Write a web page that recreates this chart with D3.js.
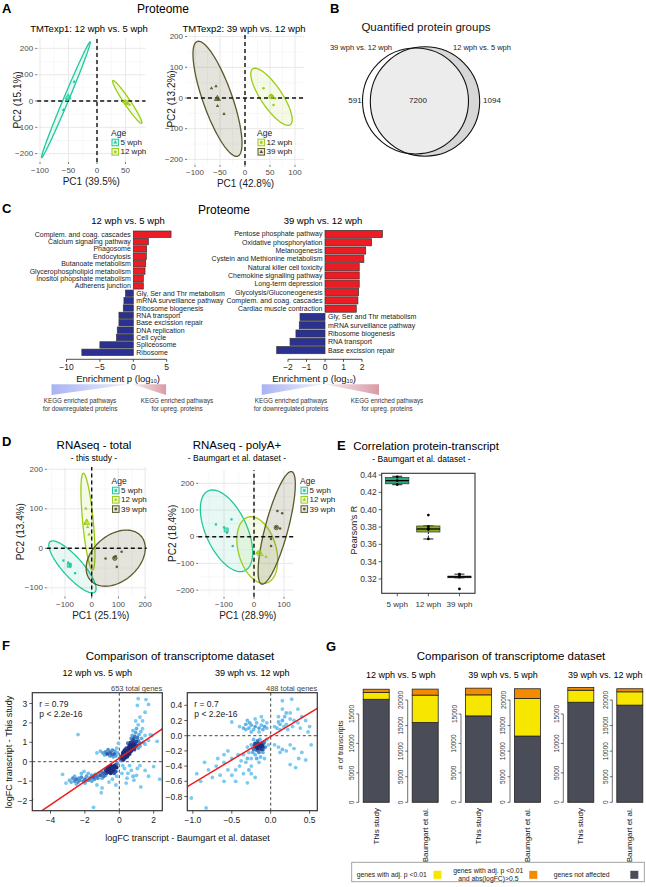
<!DOCTYPE html>
<html><head><meta charset="utf-8">
<script src="https://cdn.jsdelivr.net/npm/d3@7"></script>
<style>
body{margin:0;background:#fff}
svg{display:block}
text{font-family:"Liberation Sans",Arial,Helvetica,sans-serif}
</style></head>
<body><svg id="c" width="646" height="887"></svg>
<script>
// ================= DATA =================
// Panel A – proteome PCA
const pcaA1 = [
  {age:"5 wph", pc1:-40, pc2:73},{age:"5 wph", pc1:-53, pc2:4},{age:"5 wph", pc1:-59, pc2:-34},
  {age:"12 wph", pc1:46, pc2:-3},{age:"12 wph", pc1:53, pc2:-9},{age:"12 wph", pc1:49, pc2:1},{age:"12 wph", pc1:57, pc2:-14}
];
const ellA1 = [
  {age:"5 wph", cx:-54.5, cy:5, ux:42.5, uy:220, vx:5, vy:0},
  {age:"12 wph", cx:53, cy:-3.5, ux:25, uy:-81.5, vx:6, vy:2}
];
const pcaA2 = [
  {age:"12 wph", pc1:37, pc2:32},{age:"12 wph", pc1:52, pc2:10},{age:"12 wph", pc1:60, pc2:-1},{age:"12 wph", pc1:57, pc2:-23},{age:"12 wph", pc1:55, pc2:6},
  {age:"39 wph", pc1:-67, pc2:32},{age:"39 wph", pc1:-58, pc2:38},{age:"39 wph", pc1:-55, pc2:-26},{age:"39 wph", pc1:-42, pc2:-52},{age:"39 wph", pc1:-54, pc2:-4}
];
const ellA2 = [
  {age:"39 wph", cx:-55, cy:-2.5, ux:-38, uy:187.5, vx:31, vy:0},
  {age:"12 wph", cx:53, cy:4, ux:33, uy:-93, vx:25, vy:0}
];
// Panel B – Venn counts
const vennLabels = ["39 wph vs. 12 wph","12 wph vs. 5 wph"];
const vennCounts = [591, 7200, 1094];
// Panel C – KEGG enrichment
const keggUpA = ["Complem. and coag. cascades","Calcium signaling pathway","Phagosome","Endocytosis","Butanoate metabolism","Glycerophospholipid metabolism","Inositol phopshate metabolism","Adherens junction"];
const keggUpAVal = [5.65, 2.25, 2.0, 1.95, 1.85, 1.75, 1.5, 1.5];
const keggDownA = ["Gly, Ser and Thr metabolism","mRNA surveillance pathway","Ribosome biogenesis","RNA transport","Base excission repair","DNA replication","Cell cycle","Spliceosome","Ribosome"];
const keggDownAVal = [-1.15, -1.4, -1.5, -2.15, -2.15, -2.4, -2.5, -5.0, -7.7];
const keggUpB = ["Pentose phosphate pathway","Oxidative phosphorylation","Melanogenesis","Cystein and Methionine metabolism","Natural killer cell toxicity","Chemokine signalling pathway","Long-term depression","Glycolysis/Gluconeogenesis","Complem. and coag. cascades","Cardiac muscle contraction"];
const keggUpBVal = [3.1, 2.52, 2.2, 2.1, 1.85, 1.85, 1.85, 1.82, 1.78, 1.69];
const keggDownB = ["Gly, Ser and Thr metabolism","mRNA surveillance pathway","Ribosome biogenesis","RNA transport","Base excission repair"];
const keggDownBVal = [-1.35, -1.39, -1.57, -1.89, -2.61];
const keggTicksA = [-10, -5, 0, 5];
const keggTicksB = [-2, -1, 0, 1, 2];
// Panel D – RNAseq PCA
const pcaD1 = [
  {age:"5 wph", pc1:-106, pc2:-31},{age:"5 wph", pc1:-88, pc2:-36},{age:"5 wph", pc1:-81, pc2:-40},{age:"5 wph", pc1:-62, pc2:-63},{age:"5 wph", pc1:-82, pc2:-45},
  {age:"12 wph", pc1:-22, pc2:101},{age:"12 wph", pc1:-19, pc2:71},{age:"12 wph", pc1:-15, pc2:54},{age:"12 wph", pc1:-10, pc2:35},{age:"12 wph", pc1:-26, pc2:63},
  {age:"39 wph", pc1:52, pc2:-26},{age:"39 wph", pc1:85, pc2:-23},{age:"39 wph", pc1:94, pc2:-47},{age:"39 wph", pc1:112, pc2:-9},{age:"39 wph", pc1:90, pc2:-20}
];
const ellD1 = [
  {age:"5 wph", cx:-72, cy:-47, ux:-84, uy:63.5, vx:28, vy:17},
  {age:"12 wph", cx:-14, cy:67.5, ux:-17, uy:122.5, vx:20, vy:0},
  {age:"39 wph", cx:90, cy:-25, ux:105, uy:45, vx:-35, vy:55}
];
const pcaD2 = [
  {age:"5 wph", pc1:-127, pc2:46},{age:"5 wph", pc1:-100, pc2:35},{age:"5 wph", pc1:-75, pc2:65},{age:"5 wph", pc1:-71, pc2:-35},{age:"5 wph", pc1:-90, pc2:15},
  {age:"12 wph", pc1:14, pc2:-56},{age:"12 wph", pc1:9, pc2:-62},{age:"12 wph", pc1:40, pc2:-75},
  {age:"39 wph", pc1:78, pc2:96},{age:"39 wph", pc1:94, pc2:88},{age:"39 wph", pc1:74, pc2:35},{age:"39 wph", pc1:87, pc2:31},{age:"39 wph", pc1:57, pc2:-9},{age:"39 wph", pc1:57, pc2:-35}
];
const ellD2 = [
  {age:"5 wph", cx:-91.7, cy:22, ux:60, uy:-150, vx:-63.3, vy:-30},
  {age:"12 wph", cx:11, cy:-50, ux:25, uy:-124.7, vx:-63.3, vy:-7.5},
  {age:"39 wph", cx:75.7, cy:33, ux:50, uy:210.5, vx:36.7, vy:-11.2}
];
// Panel E – correlation boxplots
const corrAges = ["5 wph","12 wph","39 wph"];
const corrQ1 = [0.4298, 0.3742, 0.3214];
const corrMed = [0.4335, 0.3777, 0.3225];
const corrQ3 = [0.4372, 0.3812, 0.3234];
const corrLo = [0.4288, 0.3662, 0.3214];
const corrHi = [0.4385, 0.3812, 0.3256];
const corrPts = [[0.4378, 0.4336, 0.4290],[0.3938, 0.3805, 0.3782, 0.3770, 0.3662],[0.3255, 0.3232, 0.3222, 0.3085]];
const corrTicks = [0.32, 0.34, 0.36, 0.38, 0.40, 0.42, 0.44];
// Panel F – logFC scatter (x: Baumgart, y: this study)
const fLeft = [
 [0.2,0.2],[0.25,0.3],[0.3,0.25],[0.35,0.35],[0.4,0.3],[0.45,0.4],[0.5,0.35],[0.3,0.4],[0.4,0.45],[0.55,0.5],[0.35,0.2],[0.45,0.25],[0.5,0.45],[0.6,0.4],[0.38,0.38],[0.42,0.32],[0.28,0.33],[0.33,0.28],[0.48,0.3],[0.52,0.38],
 [0.36,0.42],[0.44,0.36],[0.32,0.36],[0.4,0.28],[0.46,0.44],[0.38,0.3],[0.42,0.4],[0.34,0.31],
 [0.6,0.6],[0.7,0.55],[0.65,0.7],[0.75,0.8],[0.8,0.65],[0.9,0.75],[0.85,0.9],[0.7,0.95],[0.95,1.0],[1.0,0.85],[1.1,1.1],[0.8,1.1],[0.6,0.85],[0.55,0.75],[1.2,0.95],[1.05,1.25],[0.9,1.3],[1.3,1.2],[1.15,1.4],[0.75,1.35],[0.95,1.5],[1.25,1.55],[1.0,1.7],[0.7,1.2],[0.5,0.95],[1.4,1.0],[1.5,1.35],[0.4,0.7],[0.3,0.6],[0.25,0.5],[0.65,1.0],[0.85,1.2],[1.1,0.7],[1.2,0.8],[0.55,0.6],[0.45,0.55],[0.2,0.45],[0.15,0.3],[1.35,1.7],[1.1,1.9],[0.8,1.6],[1.5,0.9],[1.7,1.1],[1.8,1.4],
 [0.62,0.5],[0.72,0.68],[0.58,0.66],[0.68,0.82],[0.78,0.72],[0.9,0.95],[1.0,1.05],[0.88,0.62],[0.5,0.6],[0.62,0.76],
 [1.1,3.25],[1.55,3.2],[1.7,2.95],[1.05,2.9],[1.5,2.55],[1.2,2.3],[1.35,2.1],[0.95,2.1],[1.9,1.35],[2.2,1.05],
 [-1.1,0.55],[-0.95,0.45],[-0.8,0.5],[-0.7,0.4],[-0.6,0.55],[-0.5,0.45],[-0.4,0.6],[-0.3,0.4],[-0.25,0.55],[-0.15,0.7],[-0.85,0.35],[-0.55,0.3],[-0.2,0.3],[-0.1,0.45],[-1.3,0.45],[-0.35,0.25],[-2.4,1.4],[-0.05,0.95],[-0.65,0.62],[-0.45,0.35],
 [-3.3,-0.65],[-3.1,-1.1],[-2.9,-0.95],[-2.8,-1.05],[-2.7,-0.85],[-2.6,-1.0],[-2.5,-0.9],[-2.4,-1.05],[-2.3,-0.95],[-2.2,-0.8],[-2.1,-1.0],[-2.0,-0.9],[-1.9,-0.75],[-1.8,-0.95],[-1.7,-0.85],[-1.6,-0.7],[-1.5,-0.8],[-1.4,-0.65],[-1.3,-0.75],[-1.2,-0.6],[-1.1,-0.7],[-1.0,-0.55],[-0.9,-0.6],[-0.8,-0.45],[-0.7,-0.5],[-2.5,-1.15],[-2.0,-1.1],[-1.6,-1.0],[-2.6,-0.75],[-2.2,-0.6],[-1.8,-0.6],[-2.05,-0.5],[-2.35,-0.85],[-1.95,-1.0],[-1.45,-0.9],[-1.25,-0.85],
 [-0.6,-0.4],[-0.5,-0.3],[-0.45,-0.35],[-0.4,-0.25],[-0.35,-0.3],[-0.3,-0.2],[-0.55,-0.45],[-0.5,-0.2],[-0.4,-0.4],[-0.3,-0.35],[-0.25,-0.25],[-0.2,-0.15],[-0.65,-0.3],[-0.7,-0.35],[-0.45,-0.5],[-0.35,-0.45],[-0.15,-0.3],[-0.1,-0.1],[-0.6,-0.55],[-0.75,-0.6],[-0.8,-0.7],[-0.9,-0.75],[-1.0,-0.85],[-0.2,-0.5],[-0.3,-0.6],[-0.5,-0.6],[-0.42,-0.28],[-0.48,-0.38],[-0.38,-0.33],[-0.52,-0.32],[-0.44,-0.42],[-0.36,-0.38],[-0.46,-0.3],[-0.4,-0.34],
 [-5.1,-1.95],[-1.5,-2.35],[-1.05,-1.6],[-1.0,-1.35],[-0.6,-1.05],[-0.2,-1.2],[-0.4,-0.9],[-0.15,-0.75],[-1.3,-1.2],
 [0.3,-0.35],[0.5,-0.6],[0.7,-0.45],[0.85,-0.95],[1.05,-0.35],[0.4,-1.1],[1.5,-0.45],[2.0,-0.25],[2.35,-0.9],[1.25,-1.3],[0.6,-0.2],[0.2,-0.2],[0.8,-0.75],[0.15,-0.6],[1.0,-0.7],[0.45,-0.85],[1.2,-0.2],[1.7,-0.75],
 [0.1,0.1],[0.15,0.15],[0.05,0.2],[0.25,0.1]
];
const fRight = [
 [-0.15,-0.12],[-0.12,-0.1],[-0.18,-0.15],[-0.1,-0.15],[-0.2,-0.1],[-0.14,-0.05],[-0.08,-0.08],[-0.22,-0.18],[-0.16,-0.2],[-0.12,-0.18],[-0.25,-0.12],[-0.05,-0.05],[-0.1,-0.22],[-0.2,-0.25],[-0.28,-0.22],[-0.18,-0.3],[-0.25,-0.3],[-0.13,-0.28],[-0.3,-0.15],[-0.07,-0.15],[-0.17,-0.07],[-0.22,-0.05],[-0.03,-0.12],[-0.08,-0.3],[-0.3,-0.3],[-0.35,-0.25],[-0.15,-0.35],[-0.25,-0.4],[-0.11,-0.13],[-0.19,-0.12],[-0.13,-0.16],[-0.17,-0.17],
 [-0.14,-0.14],[-0.16,-0.1],[-0.12,-0.12],[-0.18,-0.19],[-0.2,-0.15],[-0.1,-0.18],[-0.15,-0.22],[-0.23,-0.22],[-0.09,-0.1],[-0.21,-0.13],
 [-0.35,0.1],[-0.32,0.15],[-0.28,0.1],[-0.25,0.14],[-0.22,0.08],[-0.2,0.12],[-0.18,0.17],[-0.15,0.1],[-0.12,0.14],[-0.1,0.08],[-0.08,0.12],[-0.05,0.1],[-0.3,0.2],[-0.2,0.22],[-0.1,0.2],[-0.15,0.05],[-0.25,0.05],[-0.05,0.17],[-0.5,0.18],[-0.4,0.12],[-0.32,0.08],[-0.12,0.25],[-0.27,0.17],
 [0.08,0.1],[0.12,0.15],[0.15,0.2],[0.2,0.15],[0.18,0.25],[0.25,0.22],[0.3,0.2],[0.35,0.17],[0.1,0.25],[0.2,0.3],[0.15,0.35],[0.28,0.12],[0.05,0.12],[0.4,0.25],[0.45,0.2],[0.5,0.12],[0.15,0.46],[0.27,0.48],[0.35,0.35],[0.22,0.08],[0.38,0.1],[0.12,0.08],[0.17,0.12],[0.1,0.18],[0.25,0.3],[0.48,0.05],
 [0.05,-0.12],[0.1,-0.15],[0.15,-0.18],[0.2,-0.2],[0.25,-0.12],[0.3,-0.17],[0.4,-0.22],[0.45,-0.32],[0.25,-0.38],[0.32,-0.42],[0.52,-0.12],[0.12,-0.22],[0.36,-0.3],
 [-0.95,-0.5],[-0.9,-0.6],[-0.8,-0.45],[-0.75,-0.55],[-0.7,-0.4],[-0.65,-0.52],[-0.6,-0.35],[-0.55,-0.45],[-0.5,-0.3],[-0.45,-0.6],[-0.4,-0.4],[-0.35,-0.5],[-0.32,-0.35],[-0.3,-0.62],[-0.25,-0.5],[-0.2,-0.55],[-0.42,-0.25],[-0.6,-0.6],[-0.5,-0.52],[-0.38,-0.33],[-0.85,-0.35],[-0.68,-0.3],[-0.55,-0.2],[-0.45,-0.45],[-0.28,-0.45],
 [-1.02,-0.82],[-0.83,-0.95],[-0.6,-0.25]
];
const fLeftFit = {intercept:0.185, slope:0.602};
const fRightFit = {intercept:-0.01, slope:0.617};
const fStats = [{r:"r = 0.79", p:"p < 2.2e-16", n:"653 total genes"},{r:"r = 0.7", p:"p < 2.2e-16", n:"488 total genes"}];
const fTicksLX = [-4,-2,0,2], fTicksLY = [-2,-1,0,1,2,3];
const fTicksRX = [-1.0,-0.5,0.0,0.5], fTicksRY = [-0.8,-0.6,-0.4,-0.2,0.0,0.2,0.4];
// Panel G – stacked bars
const gComparisons = ["12 wph vs. 5 wph","39 wph vs. 5 wph","39 wph vs. 12 wph"];
const gDatasets = ["This study","Baumgart et al."];
const gNotAffected = [[17500,15600],[14680,12950],[17000,19000]];
const gAdjP = [[1150,5350],[3570,7360],[2040,2600]];
const gAdjPFC = [[560,1180],[1140,1890],[450,600]];
const gTicksThis = [0,5000,10000,15000];
const gTicksBaum = [0,5000,10000,15000,20000];
const gLegend = ["genes with adj. p <0.01","genes with adj. p <0.01|and abs(logFC)>0.5","genes not affected"];

// ================= DRAWING =================
const svg = d3.select("#c");
const COL = {"5 wph":"#1ec99c","12 wph":"#9bcc16","39 wph":"#5a5a2c"};
const SHAPE = {triangle:d3.symbolTriangle, circle:d3.symbolCircle, square:d3.symbolSquare};

function T(p, x, y, s, o = {}) {
  const t = p.append("text").attr("x", x).attr("y", y)
    .attr("font-size", o.size || 8).attr("fill", o.fill || "#000")
    .attr("text-anchor", o.anchor || "middle").attr("dominant-baseline", "central").text(s);
  if (o.weight) t.attr("font-weight", o.weight);
  if (o.rot) t.attr("transform", `rotate(${o.rot},${x},${y})`);
  return t;
}
function line(p, x1, y1, x2, y2, st, w, dash) {
  const l = p.append("line").attr("x1", x1).attr("y1", y1).attr("x2", x2).attr("y2", y2)
    .attr("stroke", st).attr("stroke-width", w);
  if (dash) l.attr("stroke-dasharray", dash);
  return l;
}
function ellPath(e, x, y) {
  const n = 120, pts = [];
  for (let i = 0; i <= n; i++) {
    const t = 2 * Math.PI * i / n;
    pts.push([x(e.cx + e.ux * Math.cos(t) + e.vx * Math.sin(t)), y(e.cy + e.uy * Math.cos(t) + e.vy * Math.sin(t))]);
  }
  return d3.line()(pts) + "Z";
}

// Panel letters
[["A",2,8],["B",330,8],["C",2,208],["D",2,441],["E",337,445],["F",2,645],["G",326,646]].forEach(d =>
  T(svg, d[1], d[2], d[0], {size:13, weight:"bold", anchor:"start"}));

function pca(cfg) {
  const g = svg.append("g");
  const x = d3.scaleLinear().domain(cfg.xRef).range(cfg.xPx);
  const y = d3.scaleLinear().domain(cfg.yRef).range(cfg.yPx);
  const X0 = x(cfg.xExt[0]), X1 = x(cfg.xExt[1]), Y0 = y(cfg.yExt[0]), Y1 = y(cfg.yExt[1]);
  cfg.xMinor.forEach(v => line(g, x(v), Y0, x(v), Y1, "#f3f3f3", 0.6));
  cfg.yMinor.forEach(v => line(g, X0, y(v), X1, y(v), "#f3f3f3", 0.6));
  cfg.xTicks.forEach(v => {
    line(g, x(v), Y0, x(v), Y1, "#e6e6e6", 0.9);
    line(g, x(v), Y0, x(v), Y0 + 2, "#555", 0.8);
    T(g, x(v), Y0 + 8, d3.format("")(v).replace("-", "\u2212"), {size:8, fill:"#4d4d4d"});
  });
  cfg.yTicks.forEach(v => {
    line(g, X0, y(v), X1, y(v), "#e6e6e6", 0.9);
    line(g, X0 - 2, y(v), X0, y(v), "#555", 0.8);
    T(g, X0 - 4, y(v), d3.format("")(v).replace("-", "\u2212"), {size:8, fill:"#4d4d4d", anchor:"end"});
  });
  cfg.ell.forEach(e => g.append("path").attr("d", ellPath(e, x, y))
    .attr("fill", COL[e.age]).attr("fill-opacity", e.age === "39 wph" ? 0.16 : 0.1)
    .attr("stroke", COL[e.age]).attr("stroke-width", 1.3));
  line(g, x(0), Y0, x(0), Y1, "#111", 1.4, "4,3");
  line(g, X0, y(0), X1, y(0), "#111", 1.4, "4,3");
  cfg.pts.forEach(p => g.append("path").attr("d", d3.symbol(SHAPE[cfg.shape[p.age]], 5)())
    .attr("transform", `translate(${x(p.pc1)},${y(p.pc2)})`).attr("fill", COL[p.age]));
  d3.groups(cfg.pts, d => d.age).forEach(([age, arr]) => {
    const mx = d3.mean(arr, d => d.pc1), my = d3.mean(arr, d => d.pc2);
    g.append("path").attr("d", d3.symbol(SHAPE[cfg.shape[age]], 16)())
      .attr("transform", `translate(${x(mx)},${y(my)})`).attr("fill", COL[age]).attr("fill-opacity", 0.6)
      .attr("stroke", COL[age]).attr("stroke-width", 0.8);
  });
  if (cfg.title) T(g, cfg.titleX, cfg.titleY, cfg.title, {size:cfg.titleSize || 9.5});
  if (cfg.sub) T(g, cfg.titleX, cfg.titleY + 13, cfg.sub, {size:8.5});
  T(g, (X0 + X1) / 2 + (cfg.xLabDx || 0), Y0 + 19, cfg.xLab, {size:10, fill:"#222"});
  T(g, cfg.yLabX, (Y0 + Y1) / 2, cfg.yLab, {size:10, fill:"#222", rot:-90});
  const L = cfg.leg;
  T(g, L.x, L.y, "Age", {size:8.5, anchor:"start", fill:"#222"});
  cfg.groups.forEach((a, i) => {
    const cy = L.y + 9.5 + i * 9.3;
    g.append("rect").attr("x", L.x + 1).attr("y", cy - 3.3).attr("width", 6.6).attr("height", 6.6)
      .attr("fill", COL[a]).attr("fill-opacity", 0.15).attr("stroke", COL[a]).attr("stroke-width", 1);
    g.append("path").attr("d", d3.symbol(SHAPE[cfg.shape[a]], 6)()).attr("transform", `translate(${L.x + 4.3},${cy})`).attr("fill", COL[a]);
    T(g, L.x + 9.5, cy, a, {size:8, anchor:"start", fill:"#222"});
  });
}

// ---- Panel A
T(svg, 163, 9, "Proteome", {size:12});
pca({xRef:[0,50], xPx:[97,125.5], yRef:[0,100], yPx:[101,74.7], xExt:[-105,85], yExt:[-232,240],
  xTicks:[-100,-50,0,50], yTicks:[-200,-100,0,100,200], xMinor:[-75,-25,25,75], yMinor:[-150,-50,50,150],
  ell:ellA1, pts:pcaA1, groups:["5 wph","12 wph"], shape:{"5 wph":"triangle","12 wph":"circle"},
  title:"TMTexp1: 12 wph vs. 5 wph", titleX:89, titleY:28, xLab:"PC1 (39.5%)", xLabDx:0, yLab:"PC2 (15.1%)", yLabX:18,
  leg:{x:111, y:133}});
pca({xRef:[0,100], xPx:[245,295], yRef:[0,100], yPx:[98,67.3], xExt:[-116,118], yExt:[-218,212],
  xTicks:[-100,-50,0,50,100], yTicks:[-200,-100,0,100,200], xMinor:[-75,-25,25,75], yMinor:[-150,-50,50,150],
  ell:ellA2, pts:pcaA2, groups:["12 wph","39 wph"], shape:{"12 wph":"circle","39 wph":"triangle"},
  title:"TMTexp2: 39 wph vs. 12 wph", titleX:244, titleY:28, xLab:"PC1 (42.8%)", xLabDx:0, yLab:"PC2 (13.2%)", yLabX:172,
  leg:{x:257, y:133}});

// ---- Panel B Venn
(function(){
  const g = svg.append("g");
  T(g, 426, 27, "Quantified protein groups", {size:11.5, fill:"#111"});
  const tot1 = vennCounts[0] + vennCounts[1], tot2 = vennCounts[1] + vennCounts[2];
  const r = d3.scaleSqrt().domain([0, tot1]).range([0, 53]);
  const c1 = {x:415.5, y:101, r:r(tot1)}, c2 = {x:425, y:101.5, r:r(tot2)};
  g.append("clipPath").attr("id", "vc2").append("circle").attr("cx", c2.x).attr("cy", c2.y).attr("r", c2.r);
  g.append("circle").attr("cx", c2.x).attr("cy", c2.y).attr("r", c2.r).attr("fill", "#d7d7d7");
  g.append("circle").attr("cx", c1.x).attr("cy", c1.y).attr("r", c1.r).attr("fill", "#fff");
  g.append("circle").attr("cx", c1.x).attr("cy", c1.y).attr("r", c1.r).attr("fill", "#ececec").attr("clip-path", "url(#vc2)");
  g.append("circle").attr("cx", c2.x).attr("cy", c2.y).attr("r", c2.r).attr("fill", "none").attr("stroke", "#111").attr("stroke-width", 1.1);
  g.append("circle").attr("cx", c1.x).attr("cy", c1.y).attr("r", c1.r).attr("fill", "none").attr("stroke", "#111").attr("stroke-width", 1.1);
  T(g, 392, 47, vennLabels[0], {size:7.5, anchor:"end", fill:"#222"});
  T(g, 453, 47, vennLabels[1], {size:7.5, anchor:"start", fill:"#222"});
  T(g, 355, 100, vennCounts[0], {size:8, fill:"#222"});
  T(g, 418, 100, vennCounts[1], {size:8, fill:"#222"});
  T(g, 492, 100, vennCounts[2], {size:8, fill:"#222"});
})();

// ---- Panel C
const defs = svg.append("defs");
const gb = defs.append("linearGradient").attr("id", "gBlue");
gb.append("stop").attr("offset", "0%").attr("stop-color", "#a9b3f2");
gb.append("stop").attr("offset", "100%").attr("stop-color", "#eef0fb");
const gr = defs.append("linearGradient").attr("id", "gRed");
gr.append("stop").attr("offset", "0%").attr("stop-color", "#f7eef0");
gr.append("stop").attr("offset", "100%").attr("stop-color", "#d99aa6");

T(svg, 224, 210, "Proteome", {size:12});
function kegg(cfg) {
  const g = svg.append("g");
  const x = d3.scaleLinear().domain(cfg.xRef).range(cfg.xPx);
  const labels = cfg.up.concat(cfg.down), vals = cfg.upV.concat(cfg.downV);
  const y = d3.scaleBand().domain(d3.range(labels.length)).range(cfg.yPx).paddingInner(0.14).paddingOuter(0.07);
  T(g, cfg.titleX, 220, cfg.title, {size:9.5});
  labels.forEach((lab, i) => {
    const v = vals[i];
    g.append("rect").attr("x", Math.min(x(0), x(v))).attr("y", y(i)).attr("width", Math.abs(x(v) - x(0)))
      .attr("height", y.bandwidth()).attr("fill", v > 0 ? "#ec1c24" : "#2b3190").attr("stroke", "#333").attr("stroke-width", 0.7);
    if (v > 0) T(g, x(0) - 2.5, y(i) + y.bandwidth() / 2, lab, {size:7, anchor:"end", fill:"#222"});
    else T(g, x(0) + 3, y(i) + y.bandwidth() / 2, lab, {size:7, anchor:"start", fill:"#222"});
  });
  const ay = 359.3;
  line(g, x(cfg.ticks[0]), ay, x(cfg.ticks[cfg.ticks.length - 1]), ay, "#222", 0.8);
  cfg.ticks.forEach(t => { line(g, x(t), ay, x(t), ay + 2.5, "#222", 0.8);
    T(g, x(t), ay + 8, d3.format("")(t).replace("-", "\u2212"), {size:8.5, fill:"#222"}); });
  const tt = g.append("text").attr("x", cfg.axTitleX).attr("y", 378).attr("text-anchor", "middle")
    .attr("dominant-baseline", "central").attr("font-size", 9.5).attr("fill", "#111");
  tt.append("tspan").text("Enrichment p (log");
  tt.append("tspan").text("10").attr("font-size", 5.5).attr("dy", 3);
  tt.append("tspan").text(")").attr("dy", -3);
  const wy0 = 384.3, wy1 = 395;
  g.append("path").attr("d", d3.line()([[x(cfg.wBlue), wy0], [x(cfg.wBlueEnd), wy0], [x(cfg.wBlue), wy1]]) + "Z").attr("fill", "url(#gBlue)");
  g.append("path").attr("d", d3.line()([[x(0) - 1, wy0], [x(cfg.wRed), wy0], [x(cfg.wRed), wy1]]) + "Z").attr("fill", "url(#gRed)");
  T(g, cfg.blueTX, 400.5, "KEGG enriched pathways", {size:6.3, fill:"#333"});
  T(g, cfg.blueTX, 408.5, "for downregulated proteins", {size:6.3, fill:"#333"});
  T(g, cfg.redTX, 400.5, "KEGG enriched pathways", {size:6.3, fill:"#333"});
  T(g, cfg.redTX, 408.5, "for upreg. proteins", {size:6.3, fill:"#333"});
}
kegg({xRef:[0,5], xPx:[133.3,166.7], yPx:[230.5,356], up:keggUpA, upV:keggUpAVal, down:keggDownA, downV:keggDownAVal,
  ticks:keggTicksA, title:"12 wph vs. 5 wph", titleX:128, axTitleX:118, wBlue:-12.25, wBlueEnd:-0.5, wRed:4.9, blueTX:80, redTX:177});
kegg({xRef:[0,1], xPx:[325,343.5], yPx:[229.8,354.3], up:keggUpB, upV:keggUpBVal, down:keggDownB, downV:keggDownBVal,
  ticks:keggTicksB, title:"39 wph vs. 12 wph", titleX:323, axTitleX:314, wBlue:-3.42, wBlueEnd:-0.1, wRed:2.92, blueTX:291, redTX:387});

// ---- Panel D
pca({xRef:[0,100], xPx:[91.7,118.4], yRef:[0,100], yPx:[548.3,508.8], xExt:[-168,206], yExt:[-122,206],
  xTicks:[-100,0,100,200], yTicks:[-100,0,100,200], xMinor:[-150,-50,50,150], yMinor:[-50,50,150],
  ell:ellD1, pts:pcaD1, groups:["5 wph","12 wph","39 wph"], shape:{"5 wph":"square","12 wph":"triangle","39 wph":"circle"},
  title:"RNAseq - total", titleSize:11.5, titleX:94, titleY:445, sub:"- this study -", xLab:"PC1 (25.1%)", xLabDx:4, yLab:"PC2 (13.4%)", yLabX:21,
  leg:{x:111.5, y:481}});
pca({xRef:[0,100], xPx:[254,284], yRef:[0,100], yPx:[536.7,510], xExt:[-186,131], yExt:[-225,250],
  xTicks:[-100,0,100], yTicks:[-200,-100,0,100,200], xMinor:[-150,-50,50], yMinor:[-150,-50,50,150],
  ell:ellD2, pts:pcaD2, groups:["5 wph","12 wph","39 wph"], shape:{"5 wph":"square","12 wph":"triangle","39 wph":"circle"},
  title:"RNAseq - polyA+", titleSize:11.5, titleX:237, titleY:445, sub:"- Baumgart et al. dataset -", xLab:"PC1 (28.9%)", xLabDx:2, yLab:"PC2 (18.4%)", yLabX:172.5,
  leg:{x:300, y:481}});

// ---- Panel E
(function(){
  const g = svg.append("g");
  T(g, 426, 446, "Correlation protein-transcript", {size:11.5});
  T(g, 421.5, 458.5, "- Baumgart et al. dataset -", {size:8.5});
  const L = 381.7, R = 475, TOP = 473.3, BOT = 593.3;
  const y = d3.scaleLinear().domain([0.32, 0.44]).range([579, 475]);
  const x = d3.scalePoint().domain(corrAges).range([L, R]).padding(0.5);
  const bw = 23.3, boxCol = ["#2fa77f","#8cae22","#4a4a26"];
  corrTicks.forEach(t => { line(g, L - 3, y(t), L, y(t), "#333", 0.8);
    T(g, L - 5, y(t), d3.format(".2f")(t), {size:8.5, anchor:"end", fill:"#333"}); });
  corrAges.forEach((a, i) => {
    const cx = x(a);
    line(g, cx, y(corrHi[i]), cx, y(corrQ3[i]), "#000", 0.9, "2,1.5");
    line(g, cx, y(corrQ1[i]), cx, y(corrLo[i]), "#000", 0.9, "2,1.5");
    line(g, cx - 5, y(corrHi[i]), cx + 5, y(corrHi[i]), "#000", 0.9);
    line(g, cx - 5, y(corrLo[i]), cx + 5, y(corrLo[i]), "#000", 0.9);
    g.append("rect").attr("x", cx - bw / 2).attr("y", y(corrQ3[i])).attr("width", bw)
      .attr("height", Math.max(1.6, y(corrQ1[i]) - y(corrQ3[i]))).attr("fill", boxCol[i]).attr("stroke", "#222").attr("stroke-width", 0.6);
    line(g, cx - bw / 2, y(corrMed[i]), cx + bw / 2, y(corrMed[i]), "#000", 1.3);
    corrPts[i].forEach(v => g.append("circle").attr("cx", cx).attr("cy", y(v)).attr("r", 1.4).attr("fill", "#000"));
    line(g, cx, BOT, cx, BOT + 3, "#333", 0.8);
    T(g, cx, 604, a, {size:8, fill:"#333"});
  });
  g.append("rect").attr("x", L).attr("y", TOP).attr("width", R - L).attr("height", BOT - TOP)
    .attr("fill", "none").attr("stroke", "#333").attr("stroke-width", 1.1);
  T(g, 353.5, 530, "Pearson's R", {size:9, fill:"#222", rot:-90});
})();

// ---- Panel F
T(svg, 180, 656, "Comparison of transcriptome dataset", {size:11.5});
T(svg, 187.5, 837.5, "logFC transcript - Baumgart et al. dataset", {size:9, fill:"#111"});
T(svg, 8.5, 752, "logFC transcript - This study", {size:9, fill:"#111", rot:-90});
const dens = d3.scaleLinear().domain([1, 4, 7, 11]).range(["#7ccaf2","#58a8e0","#3466b4","#1c2d7c"]).clamp(true);
function scatterF(cfg) {
  const g = svg.append("g");
  const L = cfg.L, R = cfg.R, TOP = 692.7, BOT = 810.7;
  const x = d3.scaleLinear().domain(cfg.xRef).range(cfg.xPx);
  const y = d3.scaleLinear().domain(cfg.yRef).range(cfg.yPx);
  T(g, (L + R) / 2, 672.5, cfg.title, {size:9});
  T(g, R, 688, cfg.stats.n, {size:7.5, anchor:"end", fill:"#444"});
  const cid = "clipF" + cfg.id;
  g.append("clipPath").attr("id", cid).append("rect").attr("x", L).attr("y", TOP).attr("width", R - L).attr("height", BOT - TOP);
  const inner = g.append("g").attr("clip-path", `url(#${cid})`);
  const px = cfg.data.map(d => [x(d[0]), y(d[1])]);
  const dd = px.map(p => px.filter(q => (q[0] - p[0]) ** 2 + (q[1] - p[1]) ** 2 < 20).length - 1);
  const order = d3.range(px.length).sort((a, b) => dd[a] - dd[b]);
  line(inner, x(0), TOP, x(0), BOT, "#333", 0.9, "3,2.5");
  line(inner, L, y(0), R, y(0), "#333", 0.9, "3,2.5");
  order.forEach(i => inner.append("circle").attr("cx", px[i][0]).attr("cy", px[i][1]).attr("r", 1.9).attr("fill", dens(dd[i])));
  const xd = x.invert(L), xe = x.invert(R);
  line(inner, x(xd), y(cfg.fit.intercept + cfg.fit.slope * xd), x(xe), y(cfg.fit.intercept + cfg.fit.slope * xe), "#ee1c1c", 1.5);
  g.append("rect").attr("x", L).attr("y", TOP).attr("width", R - L).attr("height", BOT - TOP)
    .attr("fill", "none").attr("stroke", "#333").attr("stroke-width", 1.2);
  cfg.xt.forEach(t => { line(g, x(t), BOT, x(t), BOT + 3, "#333", 0.8);
    T(g, x(t), 819.5, cfg.fmt(t).replace("-", "\u2212"), {size:8.5, fill:"#222"}); });
  cfg.yt.forEach(t => { line(g, L - 3, y(t), L, y(t), "#333", 0.8);
    T(g, L - 5, y(t), cfg.fmt(t).replace("-", "\u2212"), {size:8.5, anchor:"end", fill:"#222"}); });
  T(g, L + 7, 703.5, cfg.stats.r, {size:8.5, anchor:"start", fill:"#222"});
  T(g, L + 7, 714, cfg.stats.p, {size:8.5, anchor:"start", fill:"#222"});
}
scatterF({id:1, L:32.3, R:162.3, xRef:[0,2], xPx:[119.3,153.7], yRef:[0,1], yPx:[761.7,742.3], data:fLeft, fit:fLeftFit,
  stats:fStats[0], title:"12 wph vs. 5 wph", xt:fTicksLX, yt:fTicksLY, fmt:d3.format("d")});
scatterF({id:2, L:187.3, R:317.3, xRef:[0,0.5], xPx:[270.7,309.6], yRef:[0,0.2], yPx:[735.7,720.5], data:fRight, fit:fRightFit,
  stats:fStats[1], title:"39 wph vs. 12 wph", xt:fTicksRX, yt:fTicksRY, fmt:d3.format(".1f")});

// ---- Panel G
(function(){
  const g = svg.append("g");
  T(g, 511, 656, "Comparison of transcriptome dataset", {size:11.5});
  const BASE = 802.3;
  const yThis = d3.scaleLinear().domain([0, 15000]).range([BASE, 714]);
  const yBaum = d3.scaleLinear().domain([0, 20000]).range([BASE, 700]);
  const grp = d3.scalePoint().domain(gComparisons).range([400.7, 605.3]);
  const bw = 26;
  const cols = ["#4a4c57", "#f7e600", "#f28b00"];
  gComparisons.forEach((c, i) => {
    T(g, grp(c), 675, c, {size:9});
    gDatasets.forEach((ds, j) => {
      const y = j === 0 ? yThis : yBaum, ticks = j === 0 ? gTicksThis : gTicksBaum;
      const cx = grp(c) + (j === 0 ? -24.5 : 24.5), bx = cx - bw / 2;
      const segs = [gNotAffected[i][j], gAdjP[i][j], gAdjPFC[i][j]];
      let acc = 0;
      segs.forEach((v, k) => {
        g.append("rect").attr("x", bx).attr("y", y(acc + v)).attr("width", bw).attr("height", y(acc) - y(acc + v))
          .attr("fill", cols[k]).attr("stroke", "#222").attr("stroke-width", 0.8);
        acc += v;
      });
      const ax = bx - 4.5;
      line(g, ax, y(ticks[0]), ax, y(ticks[ticks.length - 1]), "#333", 0.7);
      ticks.forEach(t => { line(g, ax - 2.5, y(t), ax, y(t), "#333", 0.7);
        T(g, ax - 7, y(t), t, {size:6.5, fill:"#333", rot:-90}); });
      T(g, cx, 808, ds, {size:8, anchor:"end", fill:"#111", rot:-90});
    });
  });
  T(g, 340, 745, "# of transcripts", {size:7.5, fill:"#222", rot:-90});
  g.append("rect").attr("x", 351.7).attr("y", 862.3).attr("width", 292.6).attr("height", 19.4)
    .attr("fill", "#fff").attr("stroke", "#999").attr("stroke-width", 0.9);
  const legX = [391.7, 488.3, 581.7], keyX = [433.5, 529.3, 630.3], legCol = [cols[1], cols[2], cols[0]];
  gLegend.forEach((s, i) => {
    const parts = s.split("|");
    if (parts.length === 1) T(g, legX[i], 874.7, parts[0], {size:6.8, fill:"#222"});
    else { T(g, legX[i], 870.5, parts[0], {size:6.8, fill:"#222"}); T(g, legX[i], 878, parts[1], {size:6.8, fill:"#222"}); }
    g.append("rect").attr("x", keyX[i]).attr("y", 870.8).attr("width", 8).attr("height", 8).attr("fill", legCol[i]);
  });
})();
</script></body></html>
